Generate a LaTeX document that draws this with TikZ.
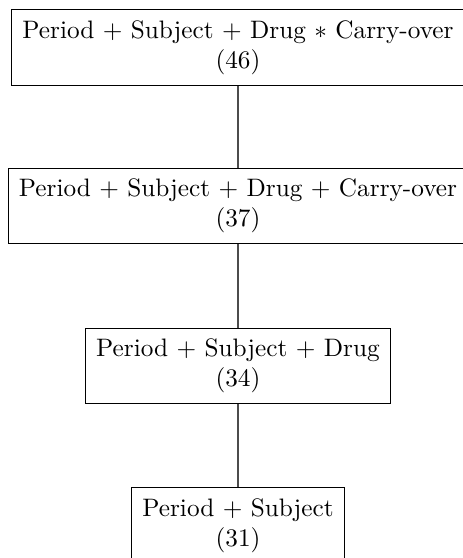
\documentclass[tikz,border=0pt]{standalone}
\usetikzlibrary{positioning}

\begin{document}
\begin{tikzpicture}[x=0.396pt,y=-0.396pt,
  model/.style={draw,align=center,inner sep=4.2pt}]
\useasboundingbox (0,0) rectangle (462,558);
\node[model] (full) at (238,47.5) {Period + Subject + Drug $*$ Carry-over\\(46)};
\node[model] (additive) at (238,206) {Period + Subject + Drug + Carry-over\\(37)};
\node[model] (nocarry) at (238,366) {Period + Subject + Drug\\(34)};
\node[model] (base) at (238,525.5) {Period + Subject\\(31)};
\draw[black!70] (full) -- (additive) (additive) -- (nocarry) (nocarry) -- (base);
\end{tikzpicture}
\end{document}
